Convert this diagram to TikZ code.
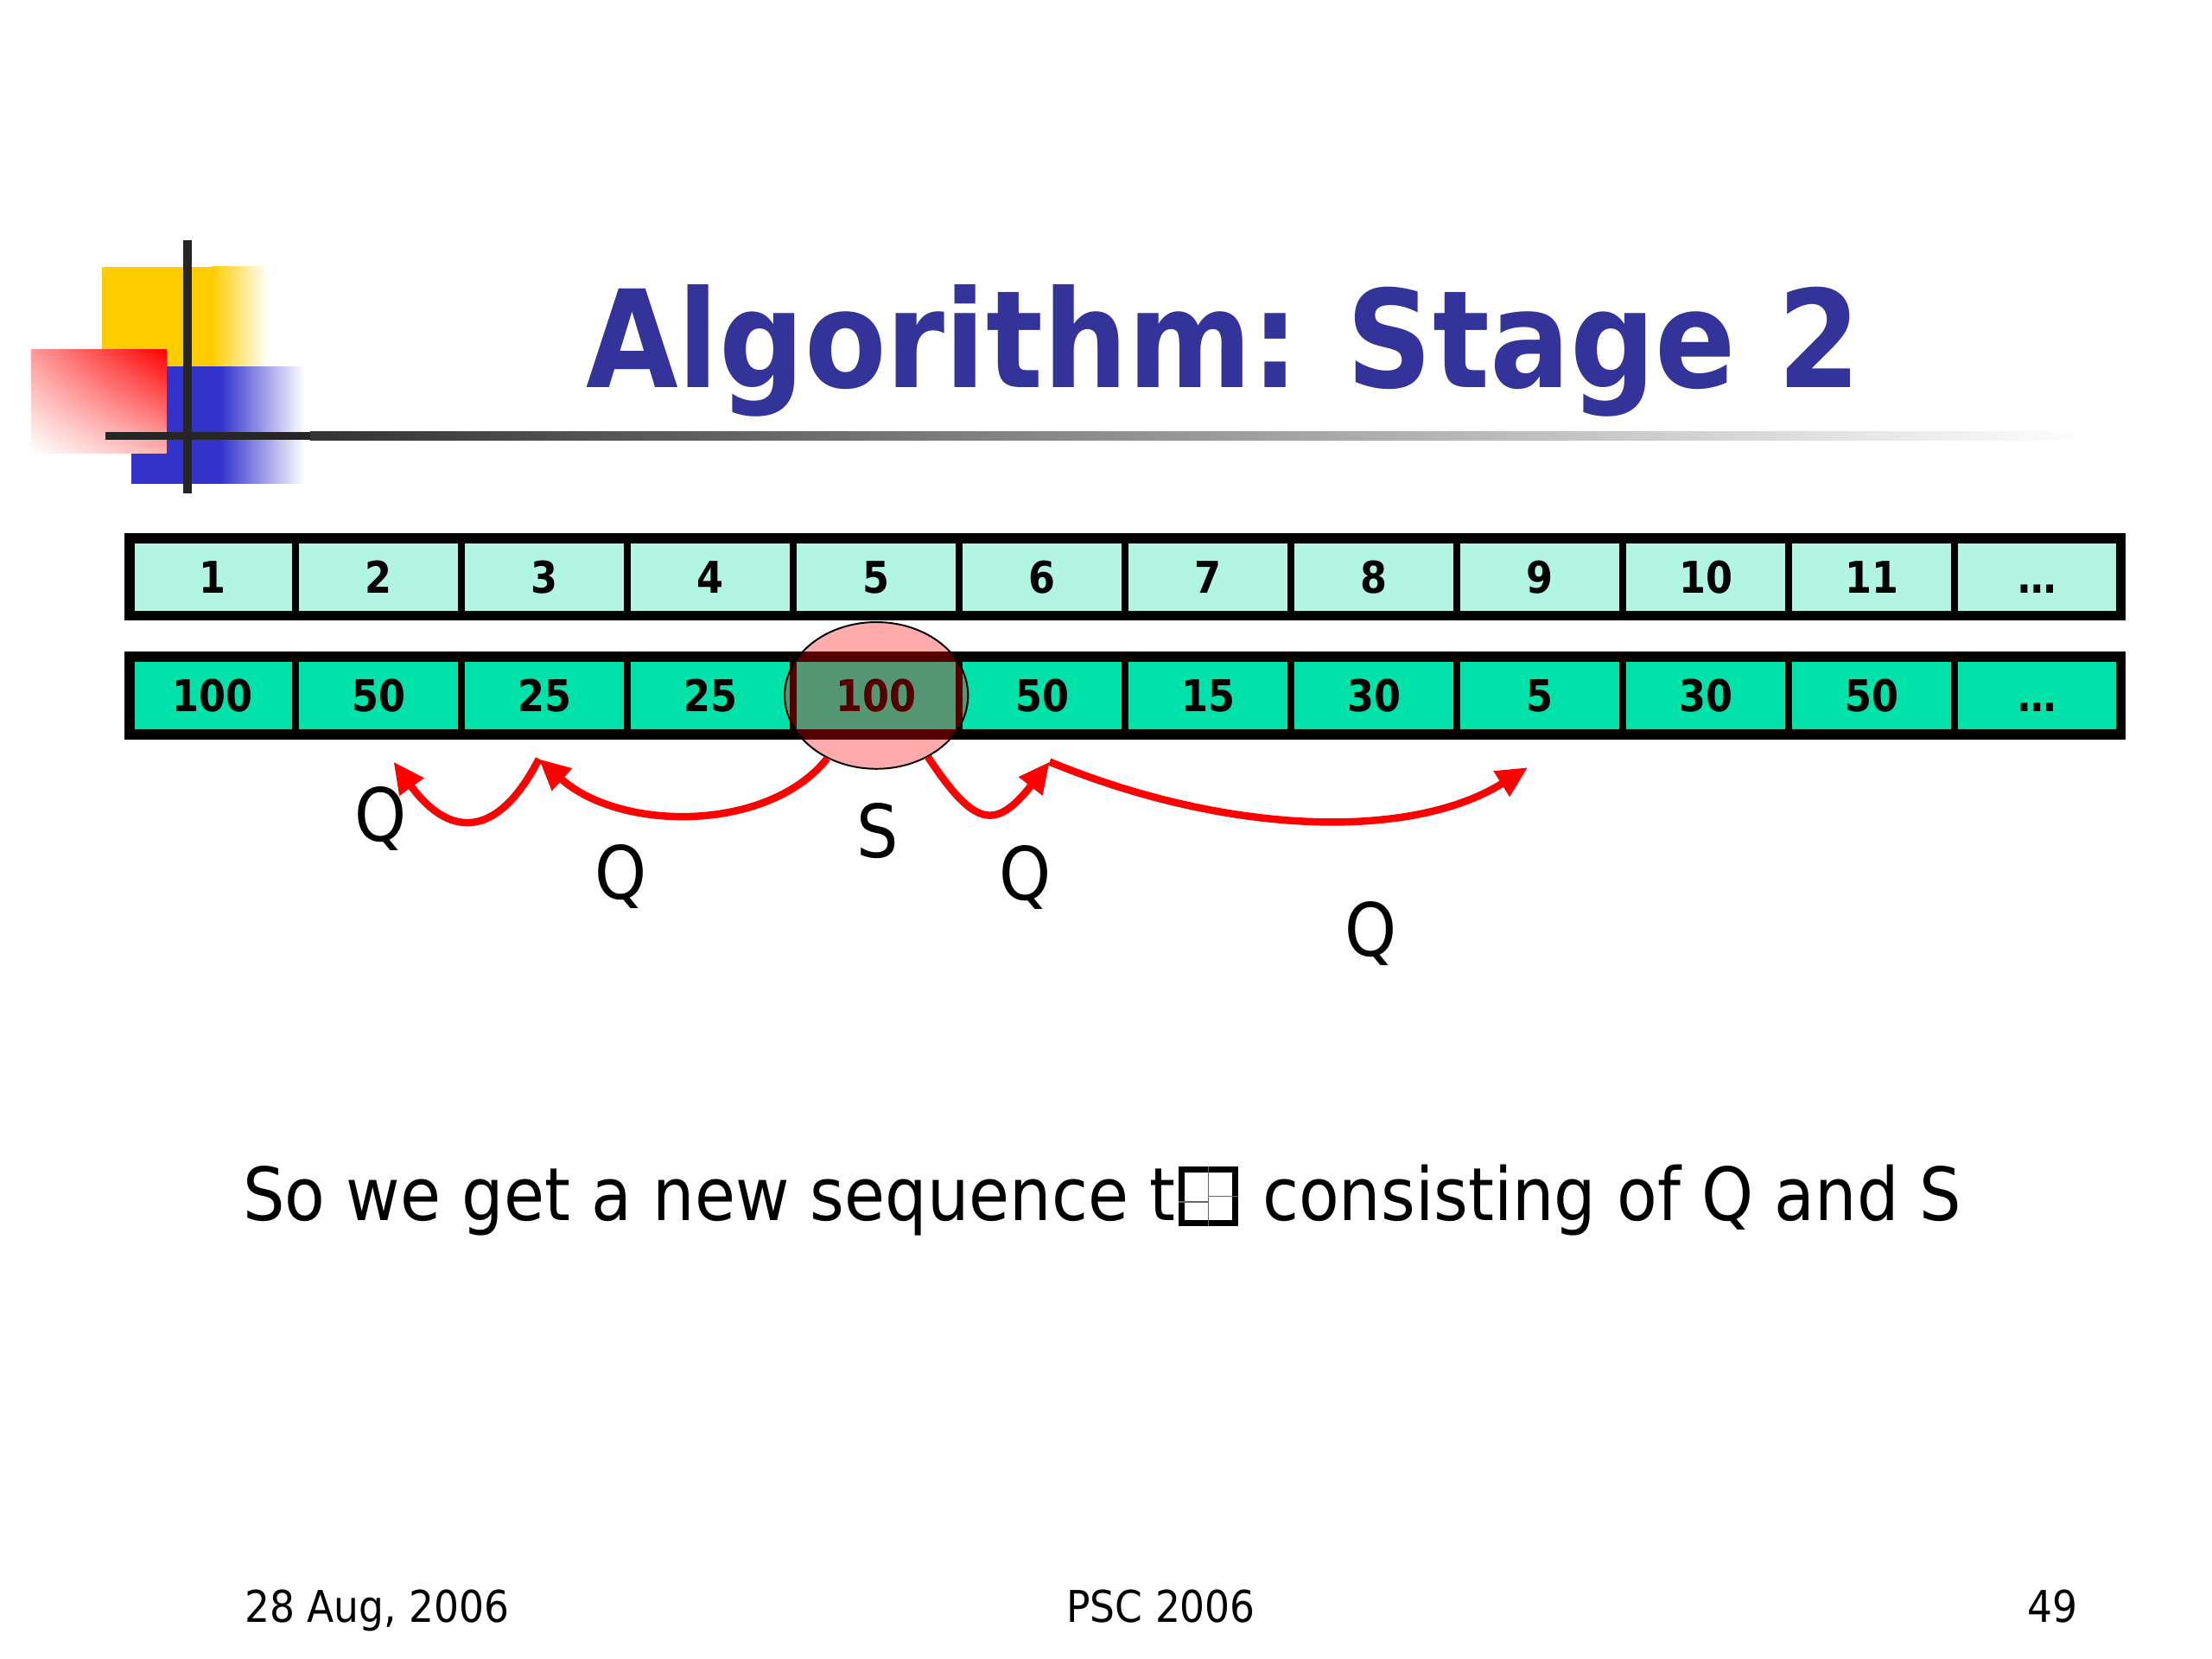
\documentclass[tikz,border=0pt]{standalone}
\usepackage{fontspec}
\setmainfont{DejaVu Sans}[FakeStretch=0.9]
\newfontfamily\narrowfont{DejaVu Sans}[FakeStretch=0.88]
\usetikzlibrary{arrows.meta,shapes.geometric,shadings}

\definecolor{titleblue}{RGB}{51,51,153}
\definecolor{mint}{RGB}{179,245,227}
\definecolor{sea}{RGB}{0,226,170}
\definecolor{sqyellow}{RGB}{255,204,0}
\definecolor{sqblue}{RGB}{51,51,204}

\tikzset{
  cell/.style={draw, line width=2.5pt, minimum width=58.8pt, minimum height=27.5pt,
    inner sep=0pt, outer sep=0pt, text height=11.3pt, text depth=0pt,
    font=\narrowfont\bfseries\fontsize{15.5}{17}\selectfont},
  idx/.style={cell, fill=mint},
  val/.style={cell, fill=sea},
  hlite/.style={ellipse, draw=black, line width=0.6pt, fill=red, fill opacity=0.33,
    minimum width=65pt, minimum height=52pt, inner sep=0pt},
  qarrow/.style={red, line width=2.6pt, -{Triangle[length=11pt,width=10pt]}},
  lab/.style={anchor=base, inner sep=0pt, font=\fontsize{26}{28}\selectfont},
  body/.style={anchor=base west, inner sep=0pt, font=\fontsize{26}{28}\selectfont},
  foot/.style={inner sep=0pt, font=\fontsize{15.5}{17}\selectfont},
  boxglyph/.style={draw, line width=2pt, minimum width=19pt, minimum height=19pt, inner sep=0pt}
}

\begin{document}
\begin{tikzpicture}[x=0.5pt,y=-0.5pt]
\useasboundingbox (0,0) rectangle (1568,1176);

\fill[sqyellow] (72,189) rectangle (150,262);
\shade[left color=sqyellow, right color=white] (150,189) rectangle (190,262);
\fill[sqblue] (93,260) rectangle (156,343);
\shade[left color=sqblue, middle color=sqblue!60, right color=white] (156,260) rectangle (216,343);
\shade[upper right=red, upper left=red!40, lower right=red!30, lower left=white] (22,248) rectangle (118,321);
\fill[black!85] (75,306) rectangle (220,312);
\shade[left color=black!80, right color=white] (220,306) rectangle (1480,312);
\draw[line width=3pt, black!85] (133,170) -- (133,350);

\node[anchor=base west, inner sep=0pt, text=titleblue,
  font=\narrowfont\bfseries\fontsize{48}{50}\selectfont] (title) at (415,275)
  {Algorithm:\hspace{0.35em}Stage 2};

\foreach \t [count=\i] in {1,2,3,4,5,6,7,8,9,10,11,…}
  \node[idx] (i\i) at ({33.2+117.6*\i},409) {\t};
\foreach \t [count=\i] in {100,50,25,25,100,50,15,30,5,30,50,…}
  \node[val] (v\i) at ({33.2+117.6*\i},493) {\t};
\draw[line width=3.5pt] (i1.north west) rectangle (i12.south east);
\draw[line width=3.5pt] (v1.north west) rectangle (v12.south east);

\node[hlite] (hl) at (v5) {};

\coordinate (p3) at (382,538);
\coordinate (p2) at (279,540);
\coordinate (p6) at (744,540);
\coordinate (p9) at (1083,544);
\draw[qarrow] (hl.232) .. controls (545,590) and (440,590) .. (p3);
\draw[qarrow] (p3) .. controls (350,600) and (315,590) .. (p2);
\draw[qarrow] (hl.310) .. controls (690,585) and (705,590) .. (p6);
\draw[qarrow] (p6) .. controls (870,592) and (1000,596) .. (p9);

\node[lab] (Q2) at (270,596) {Q};
\node[lab] (Q3) at (440,637) {Q};
\node[lab] (S5) at (622,608) {S};
\node[lab] (Q6) at (727,638) {Q};
\node[lab] (Q9) at (972,678) {Q};

\node[body] (s1) at (172,865) {So we get a new sequence t};
\node[boxglyph, anchor=south west] (gl) at ([xshift=1pt,yshift=-2pt]s1.base east) {};
\draw[thin, black!60] (gl.north) -- (gl.south);
\draw[thin, black!60] (gl.center) -- (gl.east);
\draw[thin, black!60] ([yshift=-2pt]gl.west) -- ([yshift=-2pt]gl.center);
\node[body] (s2) at ([xshift=1pt]gl.east |- s1.base) {\ consisting of Q and S};

\node[foot, anchor=base west] (date) at (173,1150) {28 Aug, 2006};
\node[foot, anchor=base] (conf) at (823,1150) {PSC 2006};
\node[foot, anchor=base east] (page) at (1473,1150) {49};
\end{tikzpicture}
\end{document}
